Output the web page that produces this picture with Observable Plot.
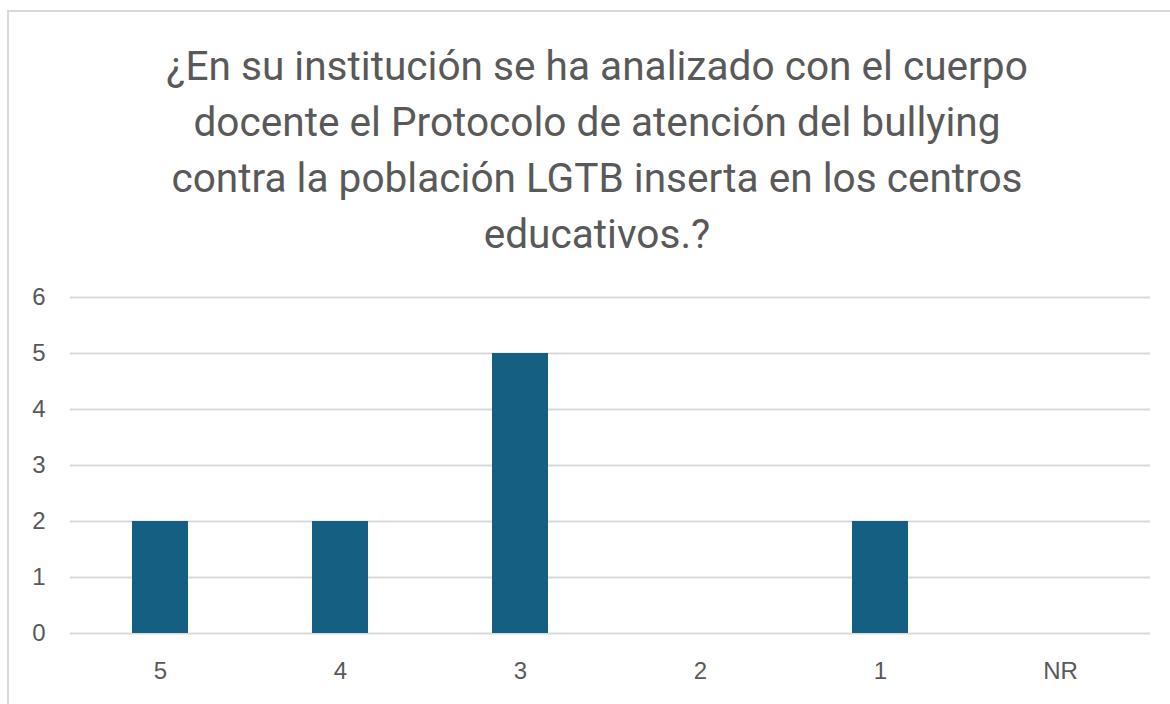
<!DOCTYPE html>
<html><head><meta charset="utf-8">
<script src="https://cdn.jsdelivr.net/npm/d3@7"></script>
<script src="https://cdn.jsdelivr.net/npm/@observablehq/plot@0.6"></script>
<style>
body{margin:0;background:#fff;width:1170px;height:704px;overflow:hidden;position:relative}
#frame{position:absolute;left:7px;top:10px;width:1200px;height:720px;border:2px solid #d9d9d9;box-sizing:border-box}
#title{position:absolute;left:97px;width:1000px;top:38px;text-align:center;font-family:Roboto,sans-serif;font-size:40.6px;line-height:56px;color:#595959}
#chart{position:absolute;left:0;top:270px}
#chart svg text{font-size:24px}
</style></head><body>
<div id="frame"></div>
<div id="title">¿En su institución se ha analizado con el cuerpo<br>docente el Protocolo de atención del bullying<br>contra la población LGTB inserta en los centros<br>educativos.?</div>
<div id="chart"></div>
<script>
const categories = ["5","4","3","2","1","NR"];
const values = [2,2,5,0,2,0];
const yTicks = [0,1,2,3,4,5,6];
const data = categories.map((c,i)=>({cat:c, v:values[i]}));
const plot = Plot.plot({
  width:1170, height:420,
  marginLeft:70, marginRight:20, marginTop:27, marginBottom:57,
  style:{fontFamily:"'Liberation Sans',Arial,sans-serif", fontSize:"24px", color:"#595959", background:"transparent"},
  x:{domain:categories, paddingInner:0.69, paddingOuter:0.345, label:null},
  y:{domain:[0,6], label:null},
  marks:[
    Plot.gridY(yTicks,{stroke:"#d9d9d9", strokeOpacity:1, strokeWidth:2}),
    Plot.barY(data,{x:"cat", y:"v", fill:"#156082"}),
    Plot.axisY(yTicks,{tickSize:0, tickPadding:25, tickFormat:d=>d}),
    Plot.axisX({tickSize:0, tickPadding:28})
  ]
});
document.getElementById("chart").appendChild(plot);
</script>
</body></html>
